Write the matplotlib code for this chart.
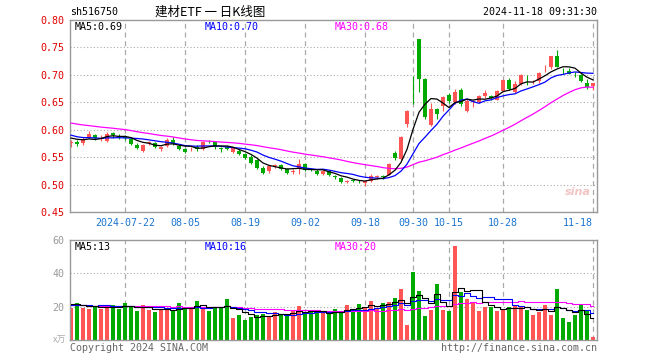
import numpy as np
import pandas as pd
import matplotlib
matplotlib.use("Agg")
import matplotlib.pyplot as plt

# daily candles, 2024-07-09 .. 2024-11-18
opens = [0.575, 0.578, 0.575, 0.586, 0.590, 0.583, 0.580, 0.594, 0.589, 0.588,
         0.583, 0.572, 0.562, 0.576, 0.576, 0.564, 0.571, 0.581, 0.571, 0.564,
         0.566, 0.568, 0.565, 0.578, 0.577, 0.566, 0.568, 0.560, 0.562, 0.555,
         0.551, 0.544, 0.531, 0.524, 0.534, 0.536, 0.528, 0.523, 0.528, 0.537,
         0.528, 0.525, 0.519, 0.525, 0.516, 0.512, 0.505, 0.508, 0.507, 0.502,
         0.507, 0.514, 0.515, 0.518, 0.557, 0.546, 0.611, 0.697, 0.766, 0.693,
         0.609, 0.637, 0.644, 0.664, 0.650, 0.672, 0.634, 0.651, 0.650, 0.661,
         0.661, 0.655, 0.670, 0.691, 0.669, 0.683, 0.689, 0.688, 0.689, 0.712,
         0.714, 0.734, 0.711, 0.707, 0.702, 0.699, 0.685, 0.680]
highs = [0.582, 0.581, 0.586, 0.597, 0.592, 0.590, 0.595, 0.596, 0.592, 0.590,
         0.585, 0.575, 0.574, 0.580, 0.578, 0.571, 0.584, 0.587, 0.574, 0.566,
         0.569, 0.572, 0.579, 0.582, 0.580, 0.568, 0.570, 0.569, 0.564, 0.557,
         0.553, 0.546, 0.533, 0.536, 0.538, 0.538, 0.530, 0.528, 0.546, 0.540,
         0.531, 0.528, 0.527, 0.527, 0.518, 0.514, 0.509, 0.510, 0.509, 0.508,
         0.520, 0.518, 0.517, 0.539, 0.561, 0.588, 0.636, 0.698, 0.766, 0.694,
         0.649, 0.640, 0.662, 0.667, 0.675, 0.676, 0.656, 0.654, 0.663, 0.672,
         0.663, 0.672, 0.692, 0.695, 0.689, 0.701, 0.699, 0.690, 0.705, 0.718,
         0.734, 0.745, 0.713, 0.713, 0.705, 0.702, 0.692, 0.685]
lows = [0.568, 0.571, 0.573, 0.584, 0.582, 0.580, 0.578, 0.584, 0.583, 0.582,
        0.572, 0.564, 0.560, 0.572, 0.566, 0.562, 0.569, 0.572, 0.563, 0.557,
        0.561, 0.562, 0.563, 0.575, 0.565, 0.560, 0.563, 0.557, 0.554, 0.546,
        0.537, 0.529, 0.520, 0.522, 0.531, 0.527, 0.519, 0.520, 0.520, 0.525,
        0.524, 0.517, 0.517, 0.516, 0.511, 0.503, 0.503, 0.504, 0.503, 0.498,
        0.505, 0.511, 0.511, 0.517, 0.545, 0.545, 0.605, 0.647, 0.669, 0.620,
        0.606, 0.620, 0.634, 0.648, 0.647, 0.644, 0.632, 0.642, 0.649, 0.658,
        0.655, 0.654, 0.668, 0.672, 0.667, 0.681, 0.681, 0.683, 0.686, 0.706,
        0.711, 0.714, 0.701, 0.701, 0.697, 0.687, 0.675, 0.672]
closes = [0.577, 0.574, 0.583, 0.592, 0.585, 0.585, 0.593, 0.590, 0.586, 0.585,
          0.574, 0.567, 0.573, 0.577, 0.568, 0.569, 0.582, 0.575, 0.565, 0.560,
          0.567, 0.564, 0.577, 0.577, 0.568, 0.565, 0.565, 0.566, 0.556, 0.548,
          0.540, 0.531, 0.522, 0.534, 0.536, 0.529, 0.521, 0.525, 0.537, 0.527,
          0.527, 0.519, 0.525, 0.518, 0.513, 0.505, 0.507, 0.507, 0.506, 0.507,
          0.516, 0.515, 0.514, 0.537, 0.549, 0.587, 0.634, 0.696, 0.693, 0.623,
          0.638, 0.629, 0.660, 0.652, 0.669, 0.646, 0.652, 0.651, 0.662, 0.667,
          0.657, 0.670, 0.691, 0.675, 0.683, 0.699, 0.688, 0.689, 0.703, 0.713,
          0.734, 0.714, 0.710, 0.702, 0.701, 0.689, 0.677, 0.685]
volumes = [19.5, 22.5, 19.5, 18.7, 20.5, 18.7, 21.1, 21.1, 18.7, 22.5,
           20.1, 17.7, 21.1, 18.1, 17.1, 18.5, 18.7, 17.5, 22.5, 19.7,
           19.1, 23.7, 19.1, 17.5, 19.7, 19.7, 24.7, 13.4, 15.1, 12.0,
           13.7, 15.1, 15.7, 14.5, 17.1, 15.7, 14.9, 17.5, 20.5, 16.1,
           17.1, 16.1, 16.1, 16.7, 18.7, 17.1, 21.1, 18.1, 21.7, 19.7,
           23.5, 18.7, 22.5, 23.1, 25.3, 30.7, 9.0, 41.0, 29.5, 14.5,
           18.1, 33.7, 18.1, 17.5, 56.2, 29.1, 24.9, 23.1, 17.5, 19.9,
           20.1, 17.5, 18.7, 19.9, 20.5, 20.5, 18.1, 15.1, 17.1, 21.1,
           15.1, 30.7, 13.3, 10.9, 15.1, 21.1, 18.1, 1.8]

# sessions before the window, only feed the moving averages
pre_closes = [0.632, 0.630, 0.628, 0.626, 0.624, 0.625, 0.622, 0.624, 0.620,
              0.628, 0.630, 0.626, 0.624, 0.622, 0.620, 0.618, 0.621, 0.619,
              0.615, 0.610, 0.603, 0.598, 0.594, 0.590, 0.592, 0.585, 0.588,
              0.584, 0.590]
pre_volumes = [21, 20, 22, 21, 19, 23, 21, 20, 22, 20, 21, 19, 22, 21, 20,
               22, 21, 19, 20, 21, 22, 19, 20, 21, 18, 21, 23, 22, 22]

tick_idx = [9, 19, 29, 39, 49, 57, 63, 72, 87]
tick_labels = ["2024-07-22", "08-05", "08-19", "09-02", "09-18",
               "09-30", "10-15", "10-28", "11-18"]

RED = "#ff5555"
GREEN = "#00aa00"
GRID = "#aaaaaa"
MONO = "DejaVu Sans Mono"

n = len(closes)
x = np.arange(n)
o, h, l, c = map(np.array, (opens, highs, lows, closes))
up = c >= o
cols = np.where(up, RED, GREEN)

cs = pd.Series(pre_closes + closes)
vs = pd.Series(pre_volumes + volumes)
k = len(pre_closes)
ma = {w: cs.rolling(w).mean().values[k:] for w in (5, 10, 30)}
vma = {w: vs.rolling(w).mean().values[k:] for w in (5, 10, 30)}
ma_cols = {5: "black", 10: "#0000ff", 30: "#ff00ff"}

fig = plt.figure(figsize=(6.6, 3.6), dpi=100)
W, H = 660, 360
ax = fig.add_axes([70 / W, 1 - 212 / H, 527 / W, 192 / H])
axv = fig.add_axes([70 / W, 1 - 340 / H, 527 / W, 100 / H])
xl = (-0.17, n - 0.33)

# candles
ax.vlines(x, l, h, colors=cols, lw=0.8, zorder=2)
body_lo = np.minimum(o, c)
body_h = np.maximum(np.abs(c - o), 0.0009)
ax.bar(x, body_h, bottom=body_lo, width=0.8, color=cols, lw=0, zorder=3)
for w in (30, 10, 5):
    ax.plot(x, ma[w], color=ma_cols[w], lw=0.9, zorder=4)

ax.set_xlim(*xl)
ax.set_ylim(0.45, 0.80)
ax.set_yticks(np.arange(0.45, 0.801, 0.05))
ax.set_yticklabels([f"{v:.2f}" for v in np.arange(0.45, 0.801, 0.05)],
                   color="#e00000", family=MONO, fontsize=7.2)
ax.set_xticks(tick_idx)
ax.set_xticklabels(tick_labels, color="#1a75d1", family=MONO, fontsize=7.2)
ax.get_xticklabels()[-1].set_ha("right")
ax.tick_params(length=0, pad=4)
for v in np.arange(0.50, 0.76, 0.05):
    ax.axhline(v, color=GRID, lw=0.8, ls=(0, (1, 2)), zorder=1)
for t in tick_idx:
    ax.axvline(t, color=GRID, lw=0.9, ls=(0, (4, 3)), zorder=1)

# volume
axv.bar(x, volumes, width=0.8, color=cols, lw=0, zorder=2)
for w in (30, 10, 5):
    axv.plot(x, vma[w], color=ma_cols[w], lw=0.8, drawstyle="steps-mid", zorder=3)
axv.set_xlim(*xl)
axv.set_ylim(0, 60)
axv.set_yticks([0, 20, 40, 60])
axv.set_yticklabels(["", "20", "40", "60"], color="#999999", family=MONO, fontsize=7.2)
axv.set_xticks([])
axv.tick_params(length=0, pad=4)
for v in (20, 40):
    axv.axhline(v, color=GRID, lw=0.8, ls=(0, (1, 2)), zorder=1)
for t in tick_idx:
    axv.axvline(t, color=GRID, lw=0.9, ls=(0, (4, 3)), zorder=1)

for a in (ax, axv):
    for s in a.spines.values():
        s.set_color("#999999")
        s.set_linewidth(1.0)

def px(xp, yp, s, **kw):
    kw.setdefault("family", MONO)
    kw.setdefault("fontsize", 7.2)
    fig.text(xp / W, 1 - yp / H, s, va="center", **kw)

px(70, 12, "sh516750")
px(210, 12, "建材ETF 一 日K线图", ha="center", family=["Noto Sans CJK SC", "DejaVu Sans"], fontsize=9)
px(597, 12, "2024-11-18 09:31:30", ha="right")

px(75, 27, f"MA5:{ma[5][-1]:.2f}", color="black")
px(205, 27, f"MA10:{ma[10][-1]:.2f}", color="#0000ff")
px(335, 27, f"MA30:{ma[30][-1]:.2f}", color="#ff00ff")
px(75, 247, f"MA5:{int(vma[5][-1])}", color="black")
px(205, 247, f"MA10:{int(vma[10][-1])}", color="#0000ff")
px(335, 247, f"MA30:{int(vma[30][-1])}", color="#ff00ff")

px(66, 340, "x万", ha="right", color="#aaaaaa", family=["Noto Sans CJK SC", "DejaVu Sans"], fontsize=6.5)
px(70, 348, "Copyright 2024 SINA.COM", color="#666666")
px(597, 348, "http://finance.sina.com.cn", ha="right", color="#666666")
px(578, 192, "sina", ha="center", color="#f2c4c4", family="DejaVu Sans",
   fontsize=8, fontweight="bold", style="italic")

fig.savefig("out.png", dpi=100)
